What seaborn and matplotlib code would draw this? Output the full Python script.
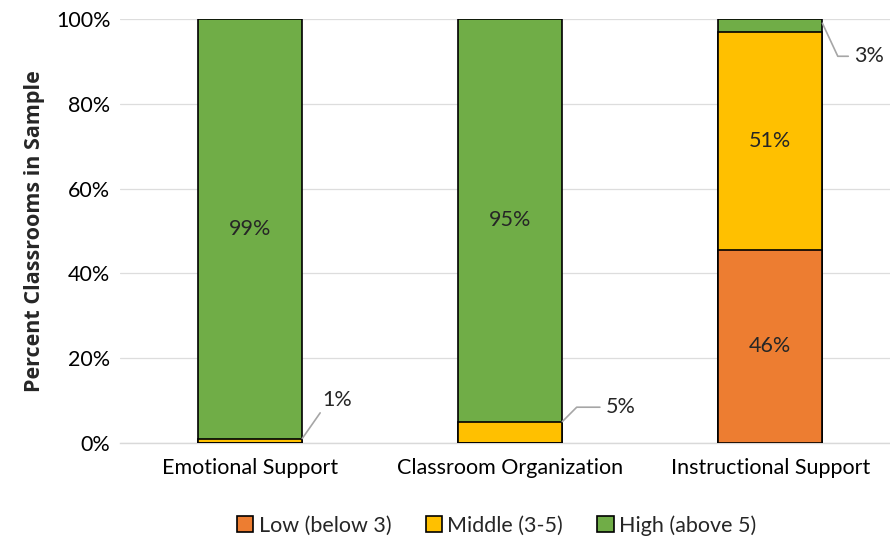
import matplotlib
matplotlib.use("Agg")
import matplotlib.pyplot as plt
import pandas as pd
import seaborn as sns

sns.set_style("white")
plt.rcParams["font.family"] = ["Lato", "DejaVu Sans"]

categories = ["Emotional Support", "Classroom Organization", "Instructional Support"]
low = [0.0, 0.0, 45.6]
middle = [1.0, 5.0, 51.3]
high = [99.0, 95.0, 3.1]
series = ["Low (below 3)", "Middle (3-5)", "High (above 5)"]
colors = ["#ED7D31", "#FFC000", "#70AD47"]

df = pd.DataFrame({"Category": categories, "Low": low, "Middle": middle, "High": high})
df["top_low"] = df["Low"] / 100
df["top_mid"] = (df["Low"] + df["Middle"]) / 100
df["top_high"] = (df["Low"] + df["Middle"] + df["High"]) / 100

fs = 15.5

fig = plt.figure(figsize=(8.9, 5.42), dpi=100)
ax = fig.add_axes([0.135, 0.183, 0.865, 0.782])

# stack by drawing cumulative totals from the top down
for col, c in zip(["top_high", "top_mid", "top_low"], colors[::-1]):
    sns.barplot(data=df, x="Category", y=col, color=c, width=0.40,
                edgecolor="black", linewidth=1.2, saturation=1, ax=ax, zorder=3)

ax.set_ylim(0, 1)
ax.set_xlim(-0.5, 2.46)
ax.set_yticks([0, 0.2, 0.4, 0.6, 0.8, 1.0])
ax.set_yticklabels(["0%", "20%", "40%", "60%", "80%", "100%"])
ax.yaxis.grid(True, color="#DDDDDD", linewidth=0.9, zorder=0)
ax.set_axisbelow(True)
for s in ["top", "right", "left"]:
    ax.spines[s].set_visible(False)
ax.spines["bottom"].set_color("#D9D9D9")
ax.spines["bottom"].set_linewidth(1)
ax.tick_params(axis="both", length=0, labelsize=fs, colors="black")
ax.tick_params(axis="x", pad=11)
ax.tick_params(axis="y", pad=7)
ax.set_xlabel("")
ax.set_ylabel("Percent Classrooms in Sample", fontsize=15.5, fontweight="bold",
              family=["Open Sans", "DejaVu Sans"], labelpad=8)

# labels inside large segments
for i in range(len(categories)):
    bottom = 0.0
    for v in [low[i], middle[i], high[i]]:
        if v >= 10:
            ax.text(i, (bottom + v / 2) / 100, f"{v:.0f}%", ha="center", va="center",
                    fontsize=fs, zorder=5)
        bottom += v

# leader lines for the small segments
line = dict(arrowstyle="-", color="#A6A6A6", lw=1.2, shrinkA=0, shrinkB=0)
ax.annotate(f"{middle[0]:.0f}%", xy=(0.2, (low[0] + middle[0]) / 100),
            xytext=(0.335, 0.102), ha="center", va="center", fontsize=fs,
            arrowprops=dict(line, relpos=(0.0, 0.0)), zorder=5)
ax.annotate(f"{middle[1]:.0f}%", xy=(1.2, (low[1] + middle[1]) / 100),
            xytext=(1.425, 0.084), ha="center", va="center", fontsize=fs,
            arrowprops=dict(line, connectionstyle="angle,angleA=180,angleB=45,rad=0",
                            relpos=(-0.2, 0.5)), zorder=5)
ax.annotate(f"{high[2]:.0f}%", xy=(2.2, 0.99),
            xytext=(2.38, 0.912), ha="center", va="center", fontsize=fs,
            arrowprops=dict(line, connectionstyle="angle,angleA=180,angleB=-65,rad=0",
                            relpos=(-0.2, 0.5)), zorder=5)

handles = [plt.Rectangle((0, 0), 1, 1, facecolor=c, edgecolor="black", linewidth=1.2)
           for c in colors]
fig.legend(handles, series, loc="lower center", bbox_to_anchor=(0.558, -0.024), ncol=3,
           frameon=False, fontsize=fs, handlelength=0.75, handleheight=0.75,
           handletextpad=0.25, columnspacing=1.6)

fig.savefig("out.png", dpi=100)
